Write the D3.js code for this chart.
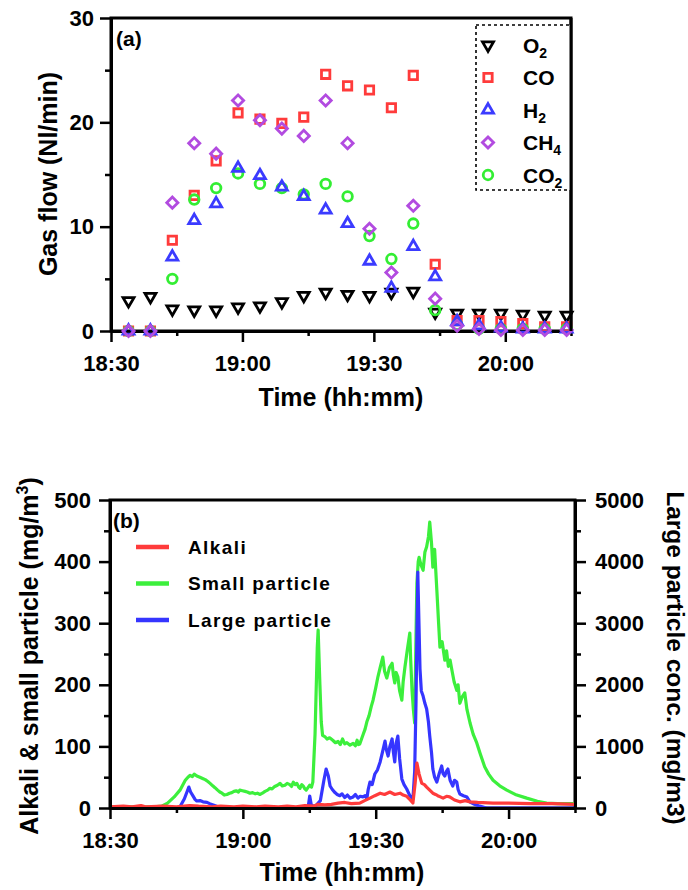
<!DOCTYPE html>
<html>
<head>
<meta charset="utf-8">
<script src="https://cdn.jsdelivr.net/npm/d3@7"></script>
<style>
  body { margin: 0; background: #fff; }
  svg text { font-family: "Liberation Sans", Arial, sans-serif; font-weight: bold; fill: #000; }
</style>
</head>
<body>
<svg id="chart" width="688" height="890"></svg>
<script>
// ---- Panel (a): gas flows, one sample every 5 min (minutes after 18:30) ----
const gasMinutes = [4, 9, 14, 19, 24, 29, 34, 39, 44, 49, 54, 59, 64, 69, 74, 79, 84, 89, 94, 99, 104];
const o2  = [2.9, 3.3, 2.1, 2.0, 2.0, 2.3, 2.4, 2.8, 3.4, 3.7, 3.5, 3.4, 3.7, 3.8, 1.8, 1.7, 1.7, 1.7, 1.6, 1.5, 1.5];
const co  = [0, 0, 8.7, 13.0, 16.3, 20.9, 20.3, 19.9, 20.5, 24.6, 23.5, 23.1, 21.4, 24.5, 6.4, 1.0, 1.0, 0.9, 0.7, 0.4, 0.4];
const h2  = [0, 0, 7.1, 10.6, 12.2, 15.6, 14.9, 13.8, 12.9, 11.6, 10.3, 6.7, 4.1, 8.1, 5.2, 0.9, 0.5, 0.3, 0.2, 0.2, 0.2];
const ch4 = [0, 0, 12.3, 18.0, 17.0, 22.1, 20.2, 19.4, 18.7, 22.1, 18.0, 9.8, 5.6, 12.0, 3.1, 0.5, 0.2, 0.1, 0.1, 0.1, 0.1];
const co2 = [0, 0, 5.0, 12.6, 13.7, 15.1, 14.1, 13.7, 13.1, 14.1, 12.9, 9.1, 6.9, 10.3, 2.0, 0.6, 0.2, 0.2, 0.2, 0.2, 0.2];

// ---- Panel (b): [minutes after 18:30, value] ----
const smallParticle = [[0,2],[5,2],[10,2],[11.7,3],[13,8],[14.5,18],[15.8,29],[17,45],[17.6,50],[18.1,53],[18.6,51],[19,55],
  [19.6,52],[20.3,50],[20.9,48],[21.5,46],[22.1,43],[22.6,40],[23.2,36],[23.7,33],[24.3,29],[24.8,26],[25.3,24],[25.8,21],
  [26.4,22],[27,24],[27.5,25],[28,27],[28.5,28],[29,26],[29.3,29],[29.9,28],[30.5,27],[31,26],[31.6,24],[32.2,25],[32.8,23],
  [33.3,24],[33.9,22],[34.4,24],[35,27],[35.6,29],[36.1,32],[36.6,31],[37.2,35],[37.8,37],[38.4,40],[38.9,36],[39.5,37],
  [40,40],[40.6,38],[41,35],[41.4,42],[41.8,38],[42.2,40],[42.6,34],[42.9,32],[43.3,38],[43.6,36],[44,31],[44.3,29],
  [44.7,33],[45.1,37],[45.5,34],[45.8,42],[46.3,120],[46.8,260],[47.0,289],[47.4,200],[47.7,140],[48,118],[48.5,116],
  [49,112],[49.6,114],[50.3,110],[50.9,106],[51.5,108],[52,103],[52.5,112],[53,104],[53.5,106],[54.2,102],[54.9,105],
  [55.4,101],[55.8,110],[56.1,103],[56.4,104],[56.8,112],[57.2,120],[57.6,128],[58,140],[58.5,150],[59,165],[59.4,175],
  [60,195],[60.5,213],[61,228],[61.6,245],[62,222],[62.5,211],[63.1,228],[63.7,235],[64,215],[64.3,203],[64.6,220],
  [65,213],[65.4,190],[65.9,175],[66.2,205],[66.6,229],[67.1,255],[67.7,284],[67.9,240],[68.2,191],[68.5,160],[68.8,138],
  [69.1,280],[69.3,365],[69.6,400],[69.8,407],[70.2,395],[70.7,386],[71.1,415],[71.5,424],[71.9,440],[72.2,464],[72.6,430],
  [72.9,391],[73.3,420],[73.8,354],[74.2,300],[74.5,261],[75,270],[75.6,240],[76,255],[76.4,230],[76.8,240],[77.2,224],
  [77.7,205],[78.3,191],[78.6,200],[79,170],[79.5,180],[80.1,187],[80.6,160],[81.3,138],[82,120],[82.8,106],[83.6,88],
  [84.6,67],[85.5,55],[86.5,45],[88,36],[89.6,29],[91.5,22],[94.1,16],[96.5,11],[98.6,8],[101,7],[105,7]];
const alkali = [[0,2],[3,3],[5,2],[7,4],[8,2],[12,3],[15,2],[18,4],[20,3],[23,2],[25,3],[28,2],[30,3],[33,2],[35,3],
  [38,2],[40,3],[42,2],[44,4],[46,3],[47,6],[48.5,5],[50,6],[51.5,8],[53,9],[54.5,7],[56.4,8],[57.5,12],[58.7,16],[59.8,20],
  [61,24],[62,22],[63.2,26],[64.3,22],[65.5,24],[66.2,21],[67,19],[67.8,13],[68.4,8],[68.9,40],[69.3,73],[69.8,55],
  [70.4,40],[71,38],[71.5,34],[72.2,29],[72.9,24],[73.5,22],[74,20],[74.6,18],[75.2,16],[76,19],[76.7,18],[77.8,13],
  [79,10],[80.2,12],[81.3,10],[83,9],[86.5,8],[90,8],[95,7],[100,7],[105,6]];
const largeParticle = [[0,0],[10,0],[15,0],[15.8,20],[16.8,150],[17.8,340],[18.2,260],[18.7,200],[19.2,140],[19.6,114],
  [20.3,120],[21,100],[21.9,92],[22.5,70],[23.3,50],[24.5,15],[26,0],[35,0],[44,0],[44.8,40],[45.1,195],[45.5,30],
  [46.5,40],[47.5,120],[48.3,450],[48.8,633],[49.3,520],[49.7,357],[50.2,300],[50.8,250],[51.3,220],[51.9,200],[52.4,230],
  [53,170],[53.6,210],[54.2,160],[54.9,180],[55.4,220],[56,160],[56.5,190],[57.1,180],[57.6,200],[58,150],[58.3,300],
  [58.7,422],[59.2,380],[59.8,552],[60.4,620],[61,747],[61.5,900],[62.1,1087],[62.4,950],[62.8,844],[63.2,1000],[63.7,1120],
  [64,900],[64.3,747],[64.6,1050],[65,1168],[65.4,800],[65.9,470],[66.4,380],[67,308],[67.7,200],[68.4,146],[68.8,600],
  [69.1,1720],[69.5,3830],[70,2256],[70.3,1900],[70.7,1818],[71.1,1700],[71.5,1607],[71.9,1400],[72.2,1168],[72.6,900],
  [72.9,633],[73.3,500],[73.8,422],[74.3,550],[74.9,682],[75.2,560],[75.6,519],[76,600],[76.3,633],[76.8,450],[77.4,357],
  [77.8,450],[78.3,422],[78.6,300],[79,227],[79.8,200],[80.6,178],[81.3,97],[82.3,60],[83.5,30],[85,0],[105,0]];

const tickMinutes = [0, 15, 30, 45, 60, 75, 90, 105];
const gasTicks = [0, 5, 10, 15, 20, 25, 30];
const leftTicks = [0, 50, 100, 150, 200, 250, 300, 350, 400, 450, 500];
const rightTicks = [0, 500, 1000, 1500, 2000, 2500, 3000, 3500, 4000, 4500, 5000];

const base = new Date(2000, 0, 1, 18, 30);
const at = m => new Date(base.getTime() + m * 60000);
const fmt = d3.timeFormat("%H:%M");

const svg = d3.select("#chart");

// shorten minor ticks and style an axis group
function styleAxis(g, isMajor, minorLen, orient) {
  g.select(".domain").attr("stroke-width", 3);
  g.selectAll(".tick line").attr("stroke-width", 2.5);
  g.selectAll(".tick text").attr("font-size", 22).attr("font-family", null);
  g.selectAll(".tick").each(function (d) {
    if (isMajor(d)) return;
    const t = d3.select(this);
    t.select("text").text("");
    if (orient === "bottom") t.select("line").attr("y2", minorLen);
    else if (orient === "left") t.select("line").attr("x2", -minorLen);
    else t.select("line").attr("x2", minorLen);
  });
}
const xMajor = d => ((d - base) / 60000) % 30 === 0;

// ================= Panel (a) =================
const xA = d3.scaleTime().domain([at(0), at(105)]).range([111, 571]);
const yA = d3.scaleLinear().domain([0, 30]).range([331, 18]);

svg.append("rect").attr("x", 111).attr("y", 18).attr("width", 460).attr("height", 313)
  .attr("fill", "none").attr("stroke", "#000").attr("stroke-width", 3);

svg.append("g").attr("transform", "translate(0,331)")
  .call(d3.axisBottom(xA).tickValues(tickMinutes.map(at)).tickFormat(fmt).tickSize(11).tickSizeOuter(0).tickPadding(13))
  .call(g => styleAxis(g, xMajor, 5, "bottom"));
svg.append("g").attr("transform", "translate(111,0)")
  .call(d3.axisLeft(yA).tickValues(gasTicks).tickSize(11).tickSizeOuter(0).tickPadding(6))
  .call(g => styleAxis(g, d => d % 10 === 0, 6, "left"));

const gasSeries = [
  { name: "O2",  sub: "2", label: "O",  values: o2,  color: "#000000", shape: "down" },
  { name: "CO",  sub: "",  label: "CO", values: co,  color: "#ff3b3b", shape: "square" },
  { name: "H2",  sub: "2", label: "H",  values: h2,  color: "#3b3bff", shape: "up" },
  { name: "CH4", sub: "4", label: "CH", values: ch4, color: "#b24be0", shape: "diamond" },
  { name: "CO2", sub: "2", label: "CO", values: co2, color: "#33ee33", shape: "circle" }
];
const symbolPath = {
  down: d3.symbol().type(d3.symbolTriangle).size(52)(),
  up: d3.symbol().type(d3.symbolTriangle).size(52)(),
  square: d3.symbol().type(d3.symbolSquare).size(70)(),
  diamond: d3.symbol().type(d3.symbolSquare).size(62)(),
  circle: d3.symbol().type(d3.symbolCircle).size(72)()
};
const symbolRot = { down: 180, up: 0, square: 0, diamond: 45, circle: 0 };

function marker(sel, s) {
  sel.append("path").attr("d", symbolPath[s.shape])
    .attr("fill", "none").attr("stroke", s.color).attr("stroke-width", 2.8);
}

const drawOrder = ["O2", "CO", "CO2", "H2", "CH4"];
drawOrder.forEach(n => {
  const s = gasSeries.find(d => d.name === n);
  svg.append("g").selectAll("g").data(s.values).join("g")
    .attr("transform", (v, i) => `translate(${xA(at(gasMinutes[i]))},${yA(v)}) rotate(${symbolRot[s.shape]})`)
    .each(function () { marker(d3.select(this), s); });
});

// legend (a)
svg.append("rect").attr("x", 476).attr("y", 25).attr("width", 95).attr("height", 165)
  .attr("fill", "#fff").attr("stroke", "#000").attr("stroke-width", 1.6).attr("stroke-dasharray", "3,3");
svg.append("line").attr("x1", 571).attr("x2", 571).attr("y1", 18).attr("y2", 331)
  .attr("stroke", "#000").attr("stroke-width", 3);
gasSeries.forEach((s, i) => {
  const y = 45 + i * 32.5;
  svg.append("g").attr("transform", `translate(488,${y}) rotate(${symbolRot[s.shape]})`)
    .call(g => marker(g, s));
  const t = svg.append("text").attr("x", 523).attr("y", y + 7.5).attr("font-size", 21).text(s.label);
  if (s.sub) t.append("tspan").attr("font-size", 14).attr("dy", 5).text(s.sub);
});

svg.append("text").attr("x", 116).attr("y", 46).attr("font-size", 21).text("(a)");
svg.append("text").attr("transform", "translate(57,174) rotate(-90)").attr("text-anchor", "middle")
  .attr("font-size", 25).text("Gas flow (Nl/min)");
svg.append("text").attr("x", 341).attr("y", 406).attr("text-anchor", "middle")
  .attr("font-size", 25).text("Time (hh:mm)");

// ================= Panel (b) =================
const xB = d3.scaleTime().domain([at(0), at(105)]).range([110, 575]);
const yL = d3.scaleLinear().domain([0, 500]).range([808, 500]);
const yR = d3.scaleLinear().domain([0, 5000]).range([808, 500]);

svg.append("rect").attr("x", 110).attr("y", 500).attr("width", 465).attr("height", 308)
  .attr("fill", "none").attr("stroke", "#000").attr("stroke-width", 3);

const lineL = d3.line().x(d => xB(at(d[0]))).y(d => yL(d[1]));
const lineR = d3.line().x(d => xB(at(d[0]))).y(d => yR(d[1]));

svg.append("path").datum(smallParticle).attr("d", lineL)
  .attr("fill", "none").attr("stroke", "#3cef3c").attr("stroke-width", 3.2).attr("stroke-linejoin", "round");
svg.append("path").datum(largeParticle).attr("d", lineR)
  .attr("fill", "none").attr("stroke", "#3535ff").attr("stroke-width", 3.2).attr("stroke-linejoin", "round");
svg.append("path").datum(alkali).attr("d", lineL)
  .attr("fill", "none").attr("stroke", "#ff3b3b").attr("stroke-width", 3.2).attr("stroke-linejoin", "round");

svg.append("g").attr("transform", "translate(0,808)")
  .call(d3.axisBottom(xB).tickValues(tickMinutes.map(at)).tickFormat(fmt).tickSize(11).tickSizeOuter(0).tickPadding(13))
  .call(g => styleAxis(g, xMajor, 5, "bottom"));
svg.append("g").attr("transform", "translate(110,0)")
  .call(d3.axisLeft(yL).tickValues(leftTicks).tickFormat(d3.format("d")).tickSize(11).tickSizeOuter(0).tickPadding(8))
  .call(g => styleAxis(g, d => d % 100 === 0, 6, "left"));
svg.append("g").attr("transform", "translate(575,0)")
  .call(d3.axisRight(yR).tickValues(rightTicks).tickFormat(d3.format("d")).tickSize(11).tickSizeOuter(0).tickPadding(9))
  .call(g => styleAxis(g, d => d % 1000 === 0, 6, "right"));

// legend (b)
const particleLegend = [
  { label: "Alkali", color: "#ff3b3b" },
  { label: "Small particle", color: "#3cef3c" },
  { label: "Large particle", color: "#3535ff" }
];
particleLegend.forEach((d, i) => {
  const y = 547 + i * 36.5;
  svg.append("line").attr("x1", 136).attr("x2", 169).attr("y1", y).attr("y2", y)
    .attr("stroke", d.color).attr("stroke-width", 4.5);
  svg.append("text").attr("x", 188).attr("y", y).attr("dy", "0.35em")
    .attr("font-size", 19).attr("letter-spacing", 1.4).text(d.label);
});

svg.append("text").attr("x", 113).attr("y", 528).attr("font-size", 21).text("(b)");
const lt = svg.append("text").attr("transform", "translate(38,656) rotate(-90)").attr("text-anchor", "middle")
  .attr("font-size", 25).text("Alkali & small particle (mg/m");
lt.append("tspan").attr("font-size", 16).attr("dy", -10).text("3");
lt.append("tspan").attr("dy", 10).text(")");
svg.append("text").attr("transform", "translate(667,658) rotate(90)").attr("text-anchor", "middle")
  .attr("font-size", 24.5).text("Large particle conc. (mg/m3)");
svg.append("text").attr("x", 342).attr("y", 881).attr("text-anchor", "middle")
  .attr("font-size", 25).text("Time (hh:mm)");
</script>
</body>
</html>
